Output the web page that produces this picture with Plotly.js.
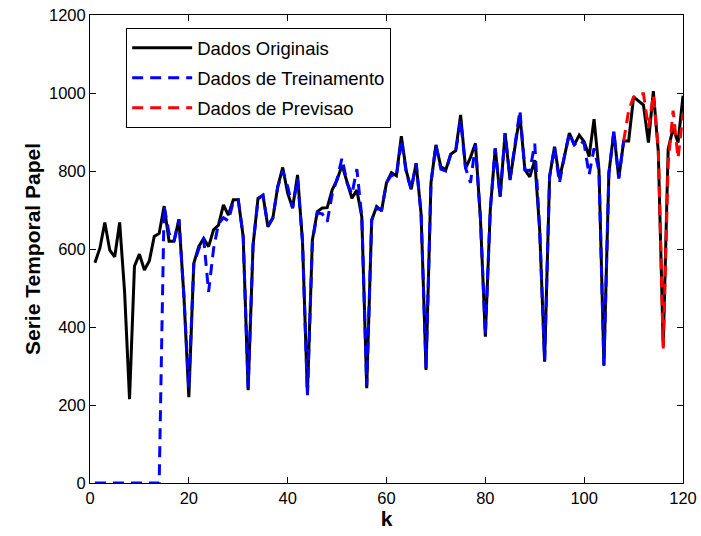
<!DOCTYPE html>
<html>
<head>
<meta charset="utf-8">
<script src="https://cdn.plot.ly/plotly-3.0.1.min.js"></script>
<style>html,body{margin:0;padding:0;background:#fff;}#chart{width:701px;height:536px;}</style>
</head>
<body>
<div id="chart"></div>
<script>
// Original series, k = 1..120
const original = [565,602,668,597,580,668,490,215,556,587,546,569,632,640,710,620,620,676,480,220,
563,606,627,606,649,661,713,687,726,726,632,238,610,730,738,657,679,760,809,743,
705,790,620,228,623,696,705,706,751,777,815,773,730,751,683,243,674,709,698,770,
796,788,889,800,753,820,690,290,770,867,811,803,843,852,944,807,835,871,680,375,
700,858,734,897,777,862,944,803,785,828,649,311,785,862,781,837,897,867,892,875,
837,933,803,303,794,901,781,877,877,990,980,969,873,1005,850,350,856,910,873,993];

// Training output, k = 1..108
const training = [0,0,0,0,0,0,0,0,0,0,0,0,0,0,710,640,620,676,480,243,
560,600,627,490,600,665,680,672,722,726,632,245,610,728,738,660,680,760,800,760,
705,780,620,225,620,693,690,670,740,780,833,770,740,805,683,250,674,705,700,770,
790,785,880,795,753,820,690,295,770,867,805,800,843,850,930,807,770,868,680,380,
700,858,734,897,780,862,955,803,800,870,649,315,785,862,770,837,897,867,880,870,
790,858,800,300,794,901,781,877];

// Forecast output, k = 108..120
const forecast = [877,955,990,998,998,910,995,860,345,820,955,833,948];

const kOrig = original.map((_, i) => i + 1);
const kTrain = training.map((_, i) => i + 1);
const kFore = forecast.map((_, i) => i + 108);

const xTicks = [0,20,40,60,80,100,120];
const yTicks = [0,200,400,600,800,1000,1200];

const font = "'Liberation Sans', Arial, Helvetica, sans-serif";

const traces = [
  {x: kOrig, y: original, type: 'scatter', mode: 'lines', name: 'Dados Originais',
   legendgroup: 'a', line: {color: '#000000', width: 3}},
  {x: kTrain, y: training, type: 'scatter', mode: 'lines', name: 'Dados de Treinamento',
   legendgroup: 'b', line: {color: '#0000ff', width: 3, dash: '11px,7px'}},
  {x: kFore, y: forecast, type: 'scatter', mode: 'lines', name: 'Dados de Previsao',
   legendgroup: 'c', line: {color: '#ff0000', width: 3, dash: '11px,7px'}}
];

const layout = {
  width: 701, height: 536,
  margin: {l: 90, r: 18, t: 15, b: 53},
  paper_bgcolor: '#ffffff', plot_bgcolor: '#ffffff',
  font: {family: font, size: 16, color: '#000'},
  showlegend: true,
  legend: {
    x: 0.061, y: 0.972, xanchor: 'left', yanchor: 'top',
    bgcolor: '#ffffff', bordercolor: '#000000', borderwidth: 1,
    font: {family: font, size: 18.5, color: '#000'},
    itemwidth: 60, tracegroupgap: 3
  },
  xaxis: {
    range: [0, 120], tickvals: xTicks, ticktext: xTicks.map(String),
    ticks: 'inside', ticklen: 6, tickcolor: '#000', tickwidth: 1,
    showline: true, linecolor: '#000', linewidth: 1, mirror: 'ticks',
    showgrid: false, zeroline: false,
    tickfont: {family: font, size: 16.5},
    title: {text: '<b>k</b>', font: {family: font, size: 21}, standoff: 4}
  },
  yaxis: {
    range: [0, 1200], tickvals: yTicks, ticktext: yTicks.map(String),
    ticks: 'inside', ticklen: 6, tickcolor: '#000', tickwidth: 1,
    showline: true, linecolor: '#000', linewidth: 1, mirror: 'ticks',
    showgrid: false, zeroline: false,
    tickfont: {family: font, size: 16.5},
    title: {text: '<b>Serie Temporal Papel</b>', font: {family: font, size: 21}, standoff: 2}
  }
};

Plotly.newPlot('chart', traces, layout, {displayModeBar: false, staticPlot: true});
</script>
</body>
</html>
